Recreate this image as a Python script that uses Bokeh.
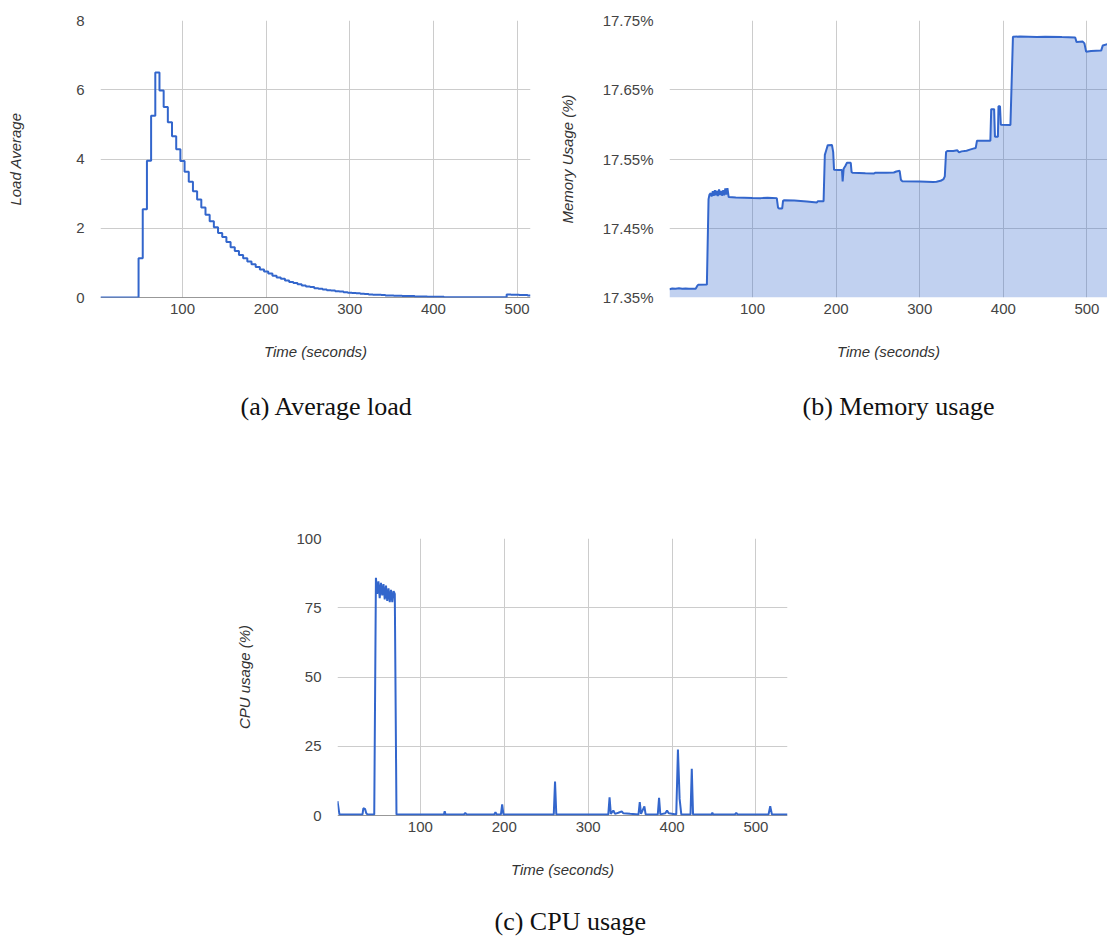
from bokeh.plotting import figure
from bokeh.layouts import column, row
from bokeh.models import FixedTicker, PrintfTickFormatter, Span, Title, Spacer, Range1d
from bokeh.embed import file_html
from bokeh.resources import INLINE

# ---------------- data ----------------
# (a) load average (step samples, seconds)
load_t = [2, 47.5, 52.5, 57.5, 62.5, 67.5, 72.5, 77.5, 82.5, 87.5, 92.5, 97.5,
          102.5, 107.5, 112.5, 117.5, 122.5, 127.5, 132.5, 137.5, 142.5, 147.5,
          152.5, 157.5, 162.5, 167.5, 172.5, 177.5, 182.5, 187.5, 192.5, 197.5,
          202.5, 207.5, 212.5, 217.5, 222.5, 227.5, 232.5, 237.5, 242.5, 247.5,
          252.5, 257.5, 262.5, 267.5, 272.5, 277.5, 282.5, 287.5, 292.5, 297.5,
          302.5, 307.5, 312.5, 317.5, 322.5, 327.5, 332.5, 337.5, 342.5, 347.5,
          352.5, 357.5, 362.5, 367.5, 372.5, 377.5, 382.5, 387.5, 392.5, 397.5,
          402.5, 407.5, 412.5, 487.5, 492.5, 497.5, 502.5, 507.5, 512.5, 516]
load_v = [0.00, 1.13, 2.55, 3.95, 5.25, 6.50, 5.98, 5.50, 5.06, 4.66, 4.28, 3.94,
          3.63, 3.34, 3.07, 2.83, 2.60, 2.39, 2.20, 2.03, 1.86, 1.75,
          1.60, 1.45, 1.34, 1.23, 1.13, 1.04, 0.96, 0.88, 0.81, 0.75,
          0.69, 0.63, 0.58, 0.54, 0.49, 0.45, 0.42, 0.38, 0.35, 0.32,
          0.30, 0.27, 0.25, 0.23, 0.21, 0.20, 0.18, 0.17, 0.15, 0.14,
          0.13, 0.12, 0.11, 0.10, 0.09, 0.08, 0.08, 0.07, 0.06, 0.06,
          0.05, 0.05, 0.04, 0.04, 0.04, 0.03, 0.03, 0.03, 0.02, 0.02,
          0.02, 0.02, 0.01, 0.09, 0.08, 0.08, 0.07, 0.07, 0.06, 0.06]

# (b) memory usage (%)
mem_t = [0.7, 4, 8, 12, 16, 20, 24, 28, 32, 33.5, 35, 45.4, 47.4, 48.5, 50, 51,
         52.5, 53.5, 55, 56, 57.5, 58.5, 60, 61, 62.5, 63.5, 65, 66, 67.5, 68.5,
         70, 71.5, 80, 100, 110, 118, 129, 130.5, 131.5, 135.5, 136.5, 138, 150,
         165, 177, 178, 185, 186.5, 188, 190, 195, 196.5, 197.5, 203, 207, 207.8,
         209, 211, 213, 217.5, 218.5, 220, 235, 245, 247, 260, 269, 272, 276,
         277.5, 279, 300, 316, 320, 325, 328.5, 330, 331.5, 333, 340, 345, 347,
         350, 356, 360, 364, 367, 368.5, 384.5, 385.5, 389, 390, 393.5, 394.2,
         396, 397, 408.5, 411.5, 420, 440, 450, 470, 486, 487.5, 495, 497, 499,
         505, 517, 519, 525]
mem_v = [17.3618, 17.3630, 17.3626, 17.3632, 17.3625, 17.3630, 17.3627, 17.3626,
         17.3627, 17.3660, 17.3684, 17.3686, 17.4920, 17.4985, 17.5005, 17.4960,
         17.5035, 17.4970, 17.5050, 17.4975, 17.5040, 17.4965, 17.5060, 17.4980,
         17.5040, 17.4970, 17.5050, 17.4975, 17.5075, 17.4985, 17.5080, 17.4950,
         17.4945, 17.4938, 17.4935, 17.4942, 17.4935, 17.4800, 17.4786, 17.4786,
         17.4895, 17.4906, 17.4900, 17.4885, 17.4872, 17.4890, 17.4890, 17.5560,
         17.5620, 17.5700, 17.5703, 17.5600, 17.5345, 17.5340, 17.5342, 17.5175,
         17.5360, 17.5400, 17.5446, 17.5446, 17.5310, 17.5300, 17.5293, 17.5290,
         17.5302, 17.5300, 17.5305, 17.5320, 17.5330, 17.5200, 17.5180, 17.5175,
         17.5168, 17.5172, 17.5185, 17.5210, 17.5250, 17.5600, 17.5616, 17.5616,
         17.5625, 17.5595, 17.5610, 17.5620, 17.5635, 17.5650, 17.5660, 17.5765,
         17.5765, 17.6220, 17.6220, 17.5820, 17.5820, 17.6260, 17.6260, 17.5995,
         17.5990, 17.7264, 17.7270, 17.7262, 17.7266, 17.7260, 17.7256, 17.7190,
         17.7195, 17.7170, 17.7050, 17.7060, 17.7065, 17.7140, 17.7160]

# (c) CPU usage (%)
cpu_t = [1.2, 3.5, 31, 32, 34, 35.5, 37, 45, 47, 48.5, 50, 51.5, 53, 54.5, 56,
         57.5, 59, 60.5, 62, 63.5, 65, 66.5, 68, 69.5, 71.5, 128, 129, 130, 152,
         153.5, 155, 188, 189.5, 191, 196, 197.5, 199, 259, 260.5, 262, 324,
         325.5, 327, 330, 332, 336, 340, 342, 350, 360, 361.5, 363, 367, 368.5,
         383, 384.5, 386, 392, 394, 396, 405, 407, 409, 411, 422, 423.5, 425,
         447, 448, 449, 475, 476.5, 478, 515, 517, 519, 537.6]
cpu_v = [5.2, 0.4, 0.4, 2.6, 2.4, 0.8, 0.4, 0.4, 85.8, 80.0, 84.5, 78.5, 84.0,
         79.5, 83.5, 78.0, 83.0, 77.5, 82.0, 77.0, 81.5, 77.0, 81.0, 80.0, 0.4,
         0.4, 1.5, 0.4, 0.4, 0.9, 0.4, 0.4, 1.2, 0.4, 0.4, 4.0, 0.4, 0.4, 12.3,
         0.4, 0.4, 6.6, 0.6, 1.8, 0.6, 1.0, 1.5, 0.8, 0.6, 0.4, 4.8, 0.6, 3.3,
         0.4, 0.4, 6.4, 0.4, 0.8, 1.8, 0.8, 0.4, 23.8, 6.0, 0.4, 0.4, 16.9, 0.4,
         0.4, 1.0, 0.4, 0.4, 1.0, 0.4, 0.4, 3.4, 0.4, 0.4]

time_ticks = [100, 200, 300, 400, 500]
load_ticks = [0, 2, 4, 6, 8]
mem_ticks = [17.35, 17.45, 17.55, 17.65, 17.75]
cpu_ticks = [0, 25, 50, 75, 100]

BLUE = "#3366cc"
GRID = "#cccccc"
SANS = "Liberation Sans"
SERIF = "Liberation Serif"


def make(x_rng, y_rng, fw, fh, ml, mr, mt, yticks, ylabel, ylab_standoff,
         caption, cap_offset, cap_gap, baseline):
    p = figure(frame_width=fw, frame_height=fh, x_range=Range1d(*x_rng),
               y_range=Range1d(*y_rng), output_backend="svg",
               toolbar_location=None, min_border_left=ml, min_border_right=mr,
               min_border_top=mt, min_border_bottom=0)
    p.outline_line_color = None
    p.background_fill_color = "white"
    p.border_fill_color = "white"
    p.xaxis.ticker = FixedTicker(ticks=time_ticks)
    p.yaxis.ticker = FixedTicker(ticks=yticks)
    for ax in (p.xaxis[0], p.yaxis[0]):
        ax.axis_line_color = None
        ax.major_tick_line_color = None
        ax.minor_tick_line_color = None
        ax.major_tick_out = 0
        ax.major_tick_in = 0
        ax.major_label_text_font = SANS
        ax.major_label_text_font_size = "15px"
        ax.major_label_text_color = "#444444"
        ax.axis_label_text_font = SANS
        ax.axis_label_text_font_size = "15px"
        ax.axis_label_text_font_style = "italic"
        ax.axis_label_text_color = "#333333"
    p.xaxis.axis_label = "Time (seconds)"
    p.xaxis.major_label_standoff = 6
    p.xaxis.axis_label_standoff = 26
    p.yaxis.axis_label = ylabel
    p.yaxis.major_label_standoff = 16
    p.yaxis.axis_label_standoff = ylab_standoff
    p.xgrid.grid_line_color = GRID
    p.ygrid.grid_line_color = GRID
    if baseline:
        p.add_layout(Span(location=0, dimension="width", line_color="#333333",
                          line_width=1, level="underlay"))
    # spacer title (keeps the gap between the axis title and the caption)
    p.add_layout(Title(text=" ", text_font_size="1px", standoff=cap_gap), "below")
    p.add_layout(Title(text=caption, align="left", offset=cap_offset,
                       vertical_align="top",
                       text_font=SERIF, text_font_size="26px",
                       text_font_style="normal", text_color="#111111",
                       standoff=0), "below")
    return p


p1 = make((2, 516), (0, 8), 430, 277, 100, 20, 20, load_ticks,
          "Load Average", 49, "(a) Average load", 140, 26, True)
p1.step(load_t, load_v, mode="after", line_color=BLUE, line_width=2)

p2 = make((0.7, 524.6), (17.35, 17.75), 438, 277, 119, 0, 20, mem_ticks,
          "Memory Usage (%)", 24, "(b) Memory usage", 133, 26, False)
p2.yaxis.formatter = PrintfTickFormatter(format="%.2f%%")
p2.varea(x=mem_t, y1=17.35, y2=mem_v, fill_color=BLUE, fill_alpha=0.3)
p2.line(mem_t, mem_v, line_color=BLUE, line_width=2)

p3 = make((1.2, 537.6), (0, 100), 450, 277, 117, 20, 116, cpu_ticks,
          "CPU usage (%)", 40, "(c) CPU usage", 157, 23, True)
p3.line(cpu_t, cpu_v, line_color=BLUE, line_width=2)

layout = column(row(p1, p2), row(Spacer(width=220), p3))
open("out.html", "w").write(file_html(layout, INLINE))
